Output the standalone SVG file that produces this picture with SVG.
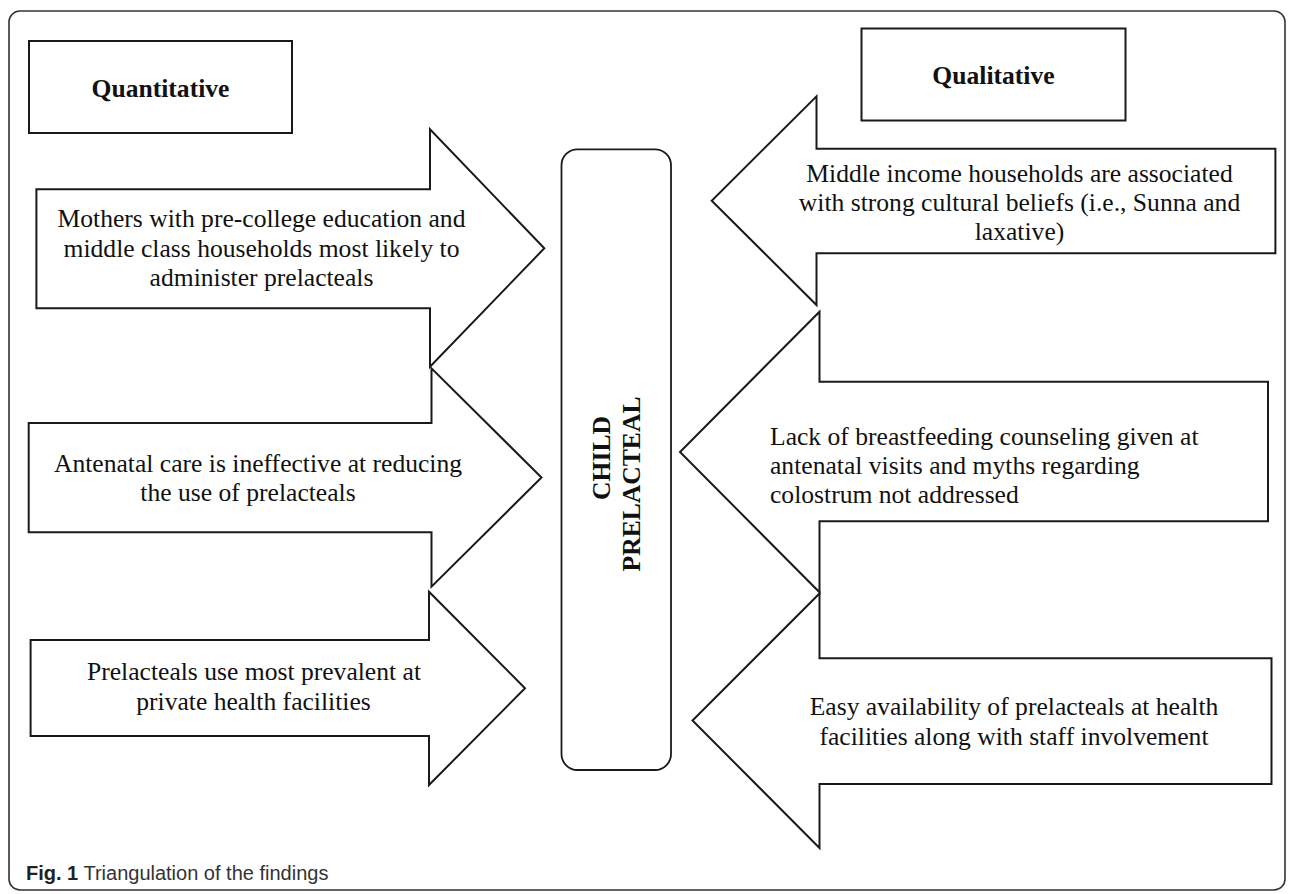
<svg xmlns="http://www.w3.org/2000/svg" width="1293" height="894" viewBox="0 0 1293 894">
<style>
.arrow{fill:#fff;stroke:#1a1a1a;stroke-width:2;stroke-linejoin:miter}
.box{fill:#fff;stroke:#1a1a1a;stroke-width:2}
.t{font-family:"Liberation Serif","Times New Roman",serif;font-size:25.6px;fill:#111}
.b{font-family:"Liberation Serif","Times New Roman",serif;font-size:25.6px;font-weight:bold;fill:#111}
.cap{font-family:"Liberation Sans",Arial,sans-serif;font-size:20px;fill:#333}
</style>
<rect x="9" y="11" width="1276" height="879" rx="11" ry="11" fill="#fff" stroke="#333" stroke-width="1.6"/>

<g id="quantitative">
<rect class="box" x="29" y="41" width="263" height="92"/>
<text class="b" x="160.5" y="96.5" text-anchor="middle">Quantitative</text>
</g>

<g id="qualitative">
<rect class="box" x="861.5" y="28.5" width="264" height="92"/>
<text class="b" x="993.5" y="83.5" text-anchor="middle">Qualitative</text>
</g>

<g id="child-prelacteal">
<rect x="561.5" y="149.3" width="109.5" height="620.7" rx="16" ry="16" fill="#fff" stroke="#1a1a1a" stroke-width="1.8"/>
<text class="b" transform="translate(610,458) rotate(-90)" text-anchor="middle">CHILD</text>
<text class="b" transform="translate(639.5,484) rotate(-90)" text-anchor="middle">PRELACTEAL</text>
</g>

<g id="quant-1">
<polygon class="arrow" points="36.4,189.3 430,189.3 430,129.3 544.3,248.3 430,366.7 430,308.3 36.4,308.3"/>
<text class="t" text-anchor="middle"><tspan x="261.5" y="227">Mothers with pre-college education and</tspan><tspan x="261.5" y="256.5">middle class households most likely to</tspan><tspan x="261.5" y="286">administer prelacteals</tspan></text>
</g>

<g id="quant-2">
<polygon class="arrow" points="28.7,423 431.5,423 431.5,368.3 541.5,477.5 431.5,586.7 431.5,532.3 28.7,532.3"/>
<text class="t" text-anchor="middle"><tspan x="258" y="471.5">Antenatal care is ineffective at reducing</tspan><tspan x="248" y="501">the use of prelacteals</tspan></text>
</g>

<g id="quant-3">
<polygon class="arrow" points="30.6,640 429,640 429,591.7 525,688.3 429,785 429,736 30.6,736"/>
<text class="t" text-anchor="middle"><tspan x="254" y="680">Prelacteals use most prevalent at</tspan><tspan x="253.5" y="710">private health facilities</tspan></text>
</g>

<g id="qual-1">
<polygon class="arrow" points="1275.4,148.8 816.5,148.8 816.5,96.3 711.7,200.7 816.5,305 816.5,253.3 1275.4,253.3"/>
<text class="t" text-anchor="middle"><tspan x="1019.5" y="181.5">Middle income households are associated</tspan><tspan x="1019.5" y="210.5">with strong cultural beliefs (i.e., Sunna and</tspan><tspan x="1019.5" y="240">laxative)</tspan></text>
</g>

<g id="qual-2">
<polygon class="arrow" points="1268,381.7 819.5,381.7 819.5,311.7 680,452 819.5,592.3 819.5,521.2 1268,521.2"/>
<text class="t"><tspan x="770" y="445">Lack of breastfeeding counseling given at</tspan><tspan x="770" y="474">antenatal visits and myths regarding</tspan><tspan x="770" y="503">colostrum not addressed</tspan></text>
</g>

<g id="qual-3">
<polygon class="arrow" points="1271.5,658.3 819.5,658.3 819.5,593.5 692.5,720.5 819.5,848 819.5,784 1271.5,784"/>
<text class="t" text-anchor="middle"><tspan x="1014" y="715">Easy availability of prelacteals at health</tspan><tspan x="1014" y="745">facilities along with staff involvement</tspan></text>
</g>

<g id="connectors"></g>

<g id="caption">
<text class="cap" x="26" y="880"><tspan font-weight="bold" fill="#222">Fig. 1</tspan> Triangulation of the findings</text>
</g>
</svg>
